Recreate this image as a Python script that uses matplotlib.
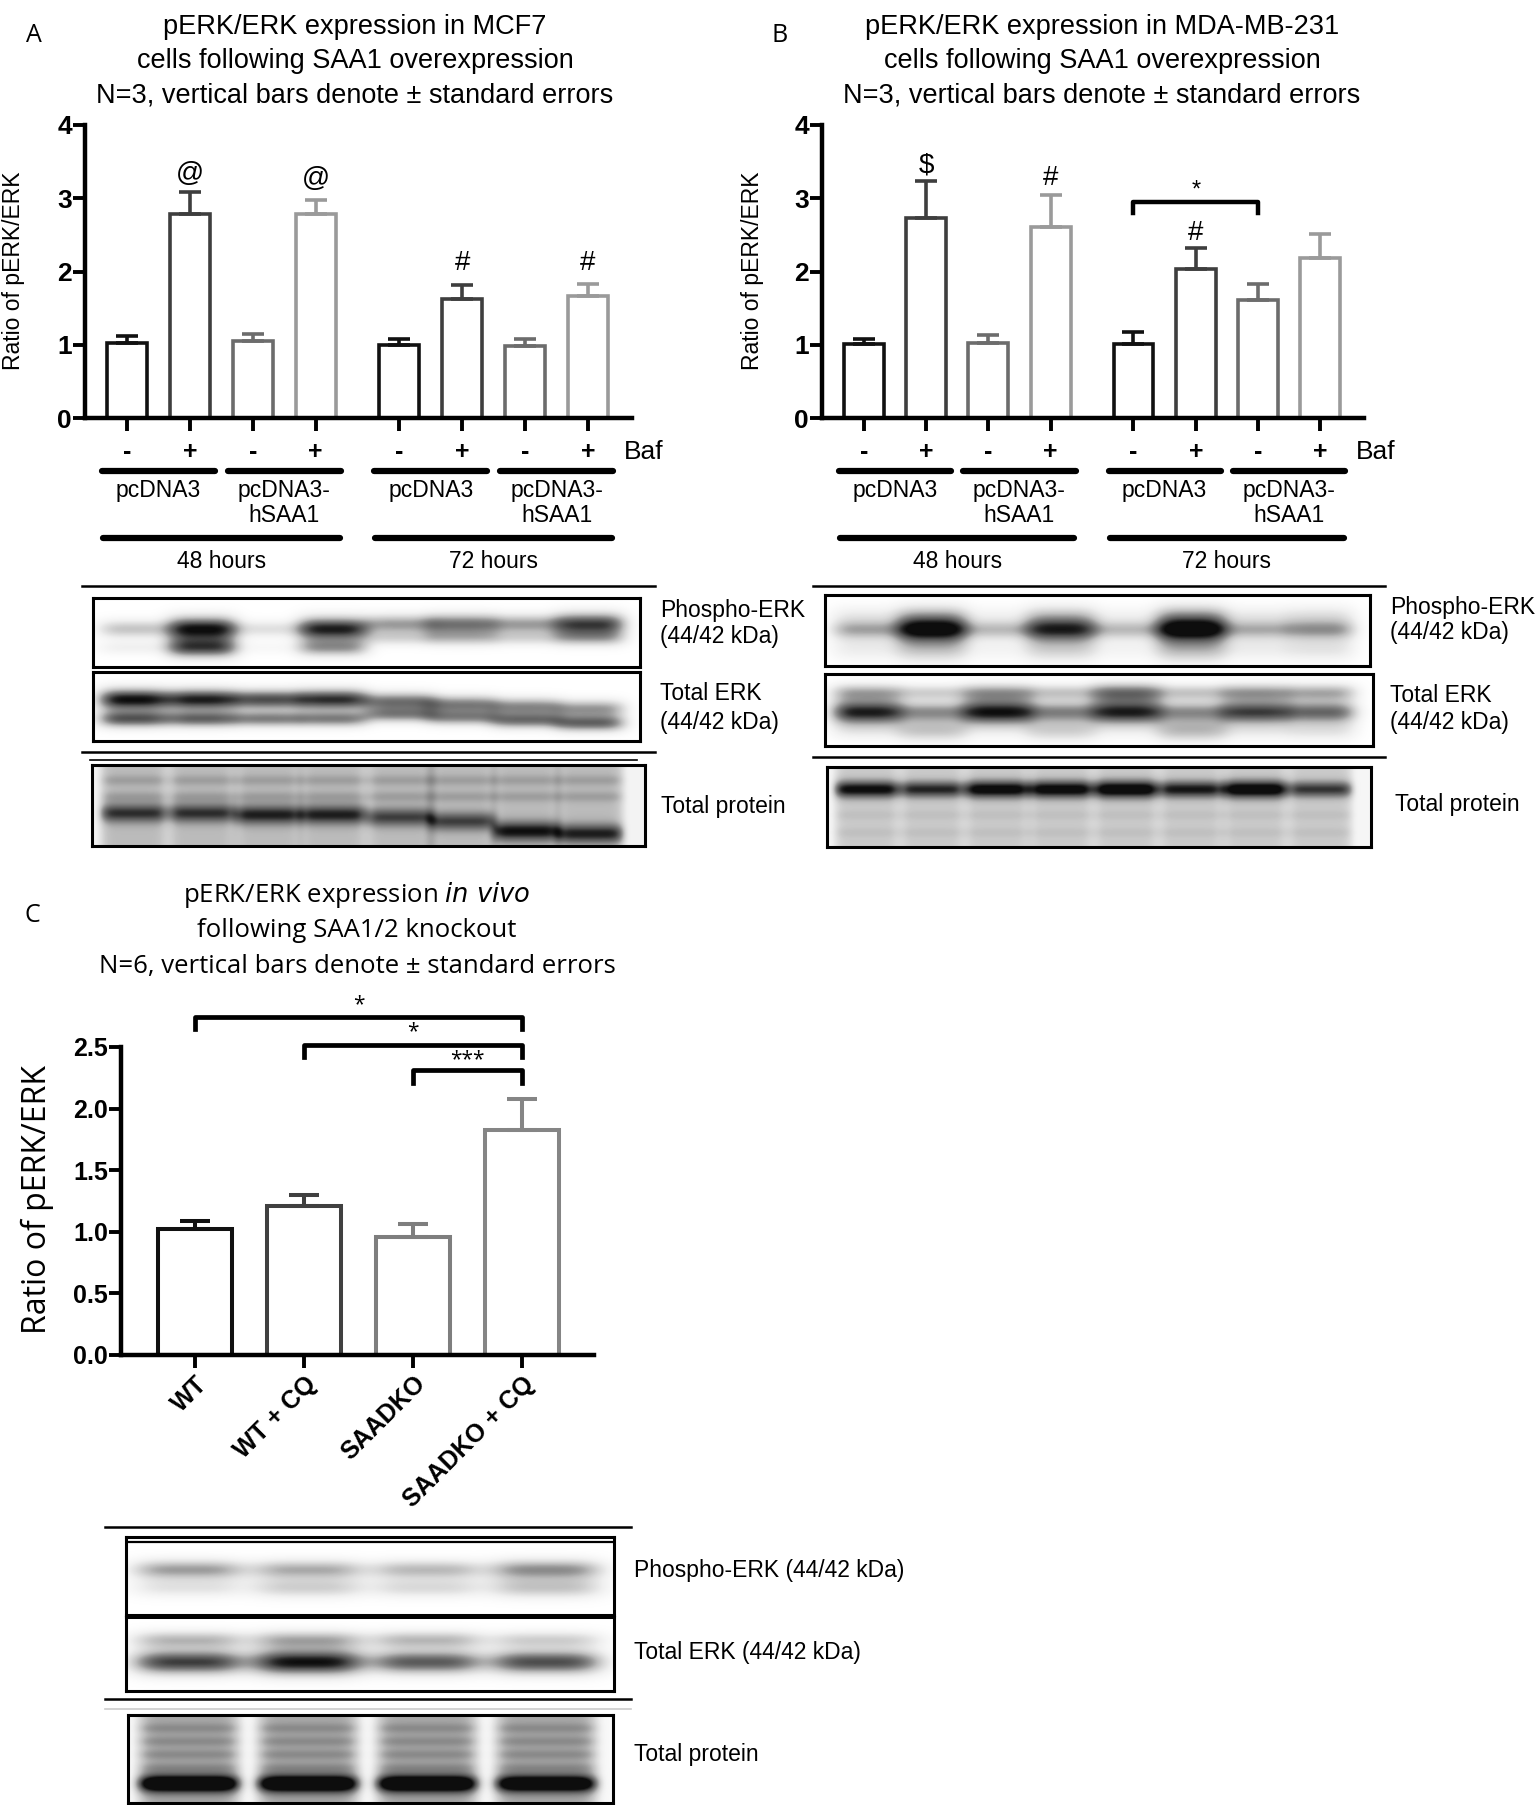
import numpy as np
import matplotlib
matplotlib.use('Agg')
import matplotlib.pyplot as plt
from matplotlib.lines import Line2D
from matplotlib.transforms import blended_transform_factory as btf

# ---------------- data ----------------
baf_labels = ['-', '+', '-', '+', '-', '+', '-', '+']
plasmid_labels = ['pcDNA3', 'pcDNA3-\nhSAA1', 'pcDNA3', 'pcDNA3-\nhSAA1']
time_labels = ['48 hours', '72 hours']

mcf7_mean = [1.02, 2.79, 1.05, 2.79, 0.99, 1.62, 0.98, 1.66]
mcf7_sem = [0.10, 0.30, 0.10, 0.19, 0.09, 0.19, 0.10, 0.17]
mcf7_marks = ['', '@', '', '@', '', '#', '', '#']
mcf7_mark_y = [0, 3.33, 0, 3.26, 0, 2.12, 0, 2.12]

mda_mean = [1.01, 2.73, 1.03, 2.61, 1.01, 2.03, 1.61, 2.19]
mda_sem = [0.07, 0.50, 0.10, 0.43, 0.16, 0.29, 0.22, 0.32]
mda_marks = ['', '$', '', '#', '', '#', '', '']
mda_mark_y = [0, 3.45, 0, 3.27, 0, 2.52, 0, 0]
mda_brackets = [(4, 6, 2.95, 2.80, 3.11, '*')]

vivo_groups = ['WT', 'WT + CQ', 'SAADKO', 'SAADKO + CQ']
vivo_mean = [1.02, 1.21, 0.955, 1.83]
vivo_sem = [0.07, 0.085, 0.105, 0.25]
vivo_brackets = [(0, 3, 2.74, 2.645, 2.84, '*'),
                 (1, 3, 2.52, 2.42, 2.62, '*'),
                 (2, 3, 2.31, 2.21, 2.40, '***')]

# western blot band intensities (0 = none, 1 = saturated), per lane
mcf7_perk_upper = [0.35, 1.00, 0.22, 0.95, 0.50, 0.65, 0.50, 0.85]
mcf7_perk_lower = [0.12, 0.80, 0.06, 0.50, 0.25, 0.35, 0.25, 0.40]
mcf7_erk_upper = [1.00, 0.95, 0.80, 0.90, 0.65, 0.60, 0.55, 0.50]
mcf7_erk_lower = [0.75, 0.70, 0.60, 0.60, 0.55, 0.55, 0.65, 0.70]
mcf7_prot_main = [0.50, 0.50, 0.55, 0.55, 0.45, 0.45, 0.60, 0.55]

mda_perk_main = [0.45, 1.00, 0.38, 0.85, 0.38, 1.00, 0.42, 0.50]
mda_perk_haze = [0.15, 0.35, 0.10, 0.30, 0.10, 0.40, 0.15, 0.20]
mda_erk_upper = [0.45, 0.30, 0.50, 0.35, 0.65, 0.35, 0.50, 0.45]
mda_erk_lower = [0.95, 0.55, 1.00, 0.60, 0.95, 0.55, 0.85, 0.70]
mda_prot_main = [0.70, 0.60, 0.75, 0.75, 0.80, 0.65, 0.80, 0.55]

vivo_perk_upper = [0.50, 0.45, 0.40, 0.55]
vivo_perk_lower = [0.20, 0.30, 0.25, 0.35]
vivo_erk_upper = [0.40, 0.45, 0.40, 0.30]
vivo_erk_lower = [0.85, 1.00, 0.75, 0.80]
vivo_prot_main = [0.90, 0.90, 0.90, 0.85]

# ---------------- style ----------------
plt.rcParams['font.family'] = ['Liberation Sans', 'DejaVu Sans']
OPEN = ['Open Sans', 'DejaVu Sans']
cell_colors = ['#111111', '#3e3e3e', '#6c6c6c', '#9a9a9a'] * 2
vivo_colors = ['#111111', '#404040', '#7e7e7e', '#858585']

W_FIG, H_FIG = 1535, 1805
fig = plt.figure(figsize=(W_FIG / 100, H_FIG / 100), dpi=100)


def fx(x):
    return x / W_FIG


def fy(y):
    return 1 - y / H_FIG


def rect(x0, y0, x1, y1):
    return [fx(x0), fy(y1), (x1 - x0) / W_FIG, (y1 - y0) / H_FIG]


def hline(x0, x1, y, lw, color='black'):
    fig.add_artist(Line2D([fx(x0), fx(x1)], [fy(y), fy(y)],
                          transform=fig.transFigure, lw=lw, color=color))


def style_axes(ax, labelsize):
    for s in ['top', 'right']:
        ax.spines[s].set_visible(False)
    for s in ['left', 'bottom']:
        ax.spines[s].set_linewidth(3.2)
    ax.tick_params(direction='out', length=9, width=2.8,
                   labelsize=labelsize, pad=0.5)
    for lab in ax.get_yticklabels():
        lab.set_fontweight('bold')


def cell_panel(ax_rect, means, sems, marks, mark_y, brackets,
               title_lines, title_cx, letter, letter_xy, ylabel_x):
    ax = fig.add_axes(ax_rect)
    pos = np.array([0, 1, 2, 3, 4.33, 5.33, 6.33, 7.33])
    for i in range(len(means)):
        ax.bar(pos[i], means[i], width=0.64, facecolor='white',
               edgecolor=cell_colors[i], linewidth=2.6, zorder=2)
        ax.errorbar(pos[i], means[i], yerr=[[0], [sems[i]]], fmt='none',
                    ecolor=cell_colors[i], elinewidth=2.6, capsize=8,
                    capthick=2.6, zorder=3)
        if marks[i]:
            ax.text(pos[i], mark_y[i], marks[i], ha='center', va='center',
                    fontsize=20)
    for (i0, i1, yb, yt, ys, s) in brackets:
        ax.plot([pos[i0], pos[i0], pos[i1], pos[i1]], [yt, yb, yb, yt],
                color='black', lw=3.2, clip_on=False)
        ax.text((pos[i0] + pos[i1]) / 2, ys, s, ha='center', va='center',
                fontsize=17)
    ax.set_xlim(-0.67, 8.03)
    ax.set_ylim(0, 4)
    ax.set_yticks([0, 1, 2, 3, 4])
    ax.set_xticks(pos)
    ax.set_xticklabels([])
    style_axes(ax, 19)

    tr = btf(ax.transData, fig.transFigure)
    for i, s in enumerate(baf_labels):
        ax.text(pos[i], fy(452), s, transform=tr, ha='center', va='center',
                fontsize=18, fontweight='bold', clip_on=False)
    ax.text(7.9, fy(452), 'Baf', transform=tr, ha='left', va='center',
            fontsize=19, clip_on=False)
    pair_c = (pos[0::2] + pos[1::2]) / 2
    for k, c in enumerate(pair_c):
        ax.plot([c - 0.9, c + 0.9], [fy(471), fy(471)], transform=tr,
                color='black', lw=4.5, solid_capstyle='round', clip_on=False)
        for j, line in enumerate(plasmid_labels[k].split('\n')):
            ax.text(c, fy(490 + 26 * j), line, transform=tr, ha='center',
                    va='center', fontsize=16.5, clip_on=False)
    grp_c = [(pos[0] + pos[3]) / 2, (pos[4] + pos[7]) / 2]
    for k, c in enumerate(grp_c):
        ax.plot([c - 1.88, c + 1.88], [fy(538), fy(538)], transform=tr,
                color='black', lw=4.5, solid_capstyle='round', clip_on=False)
        ax.text(c, fy(562), time_labels[k], transform=tr, ha='center',
                va='center', fontsize=16.5, clip_on=False)

    for j, line in enumerate(title_lines):
        fig.text(fx(title_cx), fy(27 + 34 * j), line, ha='center',
                 va='center', fontsize=19.5)
    fig.text(fx(letter_xy[0]), fy(letter_xy[1]), letter, ha='center',
             va='center', fontsize=18, family=OPEN)
    fig.text(fx(ylabel_x), fy(271), 'Ratio of pERK/ERK', rotation=90,
             ha='center', va='center', fontsize=16.5)
    return ax


def blot_image(W, H, lanes, lane_w, bands, edge=6, gap=0.0, base=0.0):
    xs = (np.arange(W) + 0.5) / W
    ys = (np.arange(H) + 0.5) / H
    X, Y = np.meshgrid(xs, ys)
    img = np.full((H, W), gap)
    for li, lc in enumerate(lanes):
        prof = np.exp(-0.5 * (np.abs(X - lc) / (lane_w / 2)) ** edge)
        val = np.full_like(Y, base)
        for (yl, il, sig) in bands:
            yy = yl[li] if hasattr(yl, '__len__') else yl
            ii = il[li] if hasattr(il, '__len__') else il
            s = sig * (0.75 + 0.45 * ii)
            val = val + ii * np.exp(-0.5 * ((Y - yy) / s) ** 2)
        img = img + prof * val
    return np.clip(img, 0, 1)


def draw_blot(x0, y0, x1, y1, lanes_px, lane_w_px, bands, edge=4,
              gap=0.0, base=0.0, lw=2.2):
    ax = fig.add_axes(rect(x0, y0, x1, y1))
    W, H = int(x1 - x0), int(y1 - y0)
    lanes = [(l - x0) / (x1 - x0) for l in lanes_px]
    img = blot_image(W, H, lanes, lane_w_px / (x1 - x0), bands, edge,
                     gap, base)
    ax.imshow(img, cmap='Greys', vmin=0, vmax=1.05, aspect='auto',
              interpolation='bilinear', extent=[0, 1, 1, 0])
    ax.set_xticks([])
    ax.set_yticks([])
    for s in ax.spines.values():
        s.set_linewidth(lw)
    return ax


def blot_label(x, y, txt):
    fig.text(fx(x), fy(y), txt, ha='left', va='center', fontsize=16.5)


# ---------------- Panel A ----------------
cell_panel(rect(85, 125, 632, 418), mcf7_mean, mcf7_sem, mcf7_marks,
           mcf7_mark_y, [],
           ['pERK/ERK expression in MCF7',
            'cells following SAA1 overexpression',
            'N=3, vertical bars denote \u00b1 standard errors'],
           355, 'A', (34, 36), 14)

# ---------------- Panel B ----------------
cell_panel(rect(822, 125, 1364, 418), mda_mean, mda_sem, mda_marks,
           mda_mark_y, mda_brackets,
           ['pERK/ERK expression in MDA-MB-231',
            'cells following SAA1 overexpression',
            'N=3, vertical bars denote \u00b1 standard errors'],
           1102, 'B', (780, 36), 752)

# ---------------- Blots A ----------------
lanesA = [134, 202, 268, 333, 400, 462, 526, 590]
hline(82, 655, 586, 1.8)
draw_blot(93, 598, 640, 667, lanesA, 60,
          [([0.45] * 4 + [0.38] * 4, mcf7_perk_upper, 0.10),
           ([0.72] * 4 + [0.58] * 4, mcf7_perk_lower, 0.09)])
draw_blot(93, 672, 640, 741, lanesA, 60,
          [([0.40, 0.40, 0.40, 0.40, 0.43, 0.47, 0.50, 0.53],
            mcf7_erk_upper, 0.09),
           ([0.68, 0.68, 0.68, 0.68, 0.62, 0.66, 0.70, 0.74],
            mcf7_erk_lower, 0.08)])
hline(82, 655, 752, 1.8)
hline(90, 637, 760, 1.2)
draw_blot(92, 765, 645, 846, lanesA, 62,
          [(0.2, 0.10, 0.06), (0.4, 0.10, 0.06),
           ([0.60, 0.60, 0.62, 0.62, 0.65, 0.70, 0.82, 0.85],
            mcf7_prot_main, 0.08)],
          edge=8, gap=0.1, base=0.3)
blot_label(660, 610, 'Phospho-ERK')
blot_label(660, 637, '(44/42 kDa)')
blot_label(660, 694, 'Total ERK')
blot_label(660, 722, '(44/42 kDa)')
blot_label(661, 807, 'Total protein')

# ---------------- Blots B ----------------
lanesB = [867, 932, 997, 1061, 1126, 1191, 1255, 1320]
hline(813, 1385, 586, 1.8)
draw_blot(825, 595, 1370, 666, lanesB, 60,
          [(0.49, mda_perk_main, 0.10), (0.3, mda_perk_haze, 0.13),
           (0.75, mda_perk_haze, 0.15)])
draw_blot(825, 674, 1373, 746, lanesB, 60,
          [(0.26, mda_erk_upper, 0.09), (0.53, mda_erk_lower, 0.10),
           (0.78, mda_perk_haze, 0.12)])
hline(813, 1385, 757, 1.8)
draw_blot(827, 767, 1371, 847, lanesB, 60,
          [(0.28, mda_prot_main, 0.07), (0.60, 0.05, 0.06),
           (0.82, 0.05, 0.06)],
          edge=8, gap=0.08, base=0.25)
blot_label(1390, 608, 'Phospho-ERK')
blot_label(1390, 633, '(44/42 kDa)')
blot_label(1390, 696, 'Total ERK')
blot_label(1390, 722, '(44/42 kDa)')
blot_label(1395, 805, 'Total protein')

# ---------------- Panel C ----------------
axC = fig.add_axes(rect(121, 1047, 594, 1355))
xc = np.arange(len(vivo_groups))
for i in range(len(vivo_groups)):
    axC.bar(xc[i], vivo_mean[i], width=0.68, facecolor='white',
            edgecolor=vivo_colors[i], linewidth=2.9, zorder=2)
    axC.errorbar(xc[i], vivo_mean[i], yerr=[[0], [vivo_sem[i]]], fmt='none',
                 ecolor=vivo_colors[i], elinewidth=2.9, capsize=11,
                 capthick=2.9, zorder=3)
for (i0, i1, yb, yt, ys, s) in vivo_brackets:
    axC.plot([xc[i0], xc[i0], xc[i1], xc[i1]], [yt, yb, yb, yt],
             color='black', lw=3.4, clip_on=False)
    axC.text((xc[i0] + xc[i1]) / 2, ys, s, ha='center', va='center',
             fontsize=15, family=OPEN)
axC.set_xlim(-0.68, 3.66)
axC.set_ylim(0, 2.5)
axC.set_yticks([0, 0.5, 1.0, 1.5, 2.0, 2.5])
axC.set_yticklabels(['0.0', '0.5', '1.0', '1.5', '2.0', '2.5'])
axC.set_xticks(xc)
axC.set_xticklabels(vivo_groups, rotation=45, ha='right',
                    rotation_mode='anchor', fontweight='bold', fontsize=20)
style_axes(axC, 18)
axC.tick_params(axis='x', pad=3)

for j, line in enumerate(['pERK/ERK expression $\\mathit{in\\ vivo}$',
                          'following SAA1/2 knockout',
                          'N=6, vertical bars denote \u00b1 standard errors']):
    fig.text(fx(357), fy(895 + 35.5 * j), line, ha='center', va='center',
             fontsize=18.5, family=OPEN)
fig.text(fx(32), fy(915), 'C', ha='center', va='center', fontsize=18,
         family=OPEN)
fig.text(fx(37), fy(1200), 'Ratio of pERK/ERK', rotation=90, ha='center',
         va='center', fontsize=23, family=OPEN)

# ---------------- Blots C ----------------
lanesC = [189, 308, 427, 546]
hline(105, 631, 1527, 1.8)
axb = draw_blot(126, 1537, 614, 1615, lanesC, 95,
                [(0.42, vivo_perk_upper, 0.09), (0.65, vivo_perk_lower, 0.10)])
axb.axhline(0.07, color='black', lw=1.6)
draw_blot(126, 1617, 614, 1691, lanesC, 95,
          [(0.31, vivo_erk_upper, 0.09), (0.61, vivo_erk_lower, 0.10)])
hline(105, 631, 1699, 1.8)
hline(105, 631, 1709, 1.2, color='#cccccc')
draw_blot(128, 1715, 613, 1803, lanesC, 95,
          [(0.15, 0.10, 0.05), (0.30, 0.10, 0.05), (0.45, 0.10, 0.05),
           (0.60, 0.10, 0.05), (0.78, vivo_prot_main, 0.06)],
          edge=8, gap=0.05, base=0.42)
blot_label(634, 1571, 'Phospho-ERK (44/42 kDa)')
blot_label(634, 1653, 'Total ERK (44/42 kDa)')
blot_label(634, 1755, 'Total protein')

fig.savefig('out.png', dpi=100, facecolor='white')
